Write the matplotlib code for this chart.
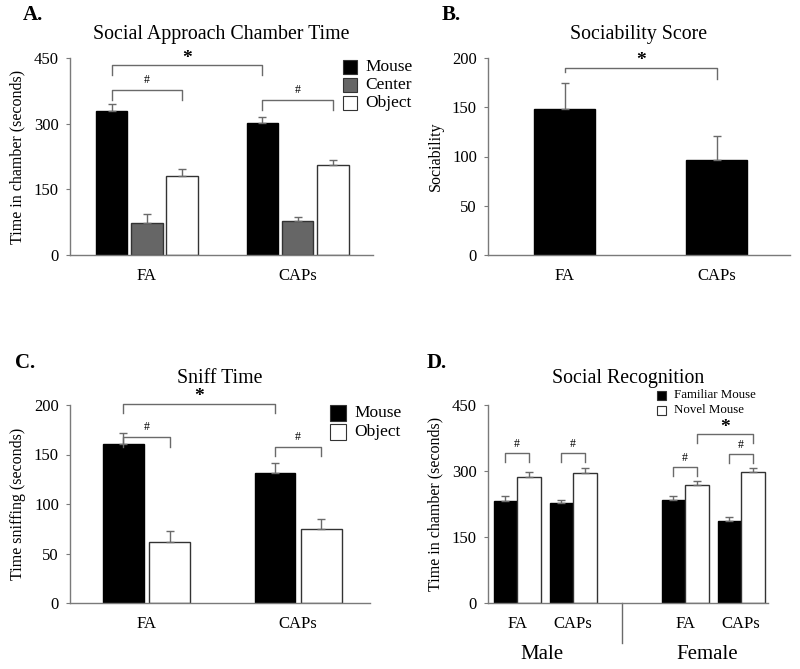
import matplotlib

matplotlib.use("Agg")
import matplotlib.pyplot as plt
import numpy as np

plt.rcParams["font.family"] = ["Liberation Serif", "DejaVu Serif"]

# A. social approach chamber time
a_groups = ["FA", "CAPs"]
a_series = ["Mouse", "Center", "Object"]
a_means = [[330, 301], [73, 78], [181, 205]]
a_errs = [[15, 14], [21, 8], [15, 12]]

# B. sociability score
b_groups = ["FA", "CAPs"]
b_means = [148, 96]
b_errs = [27, 25]

# C. sniff time
c_groups = ["FA", "CAPs"]
c_series = ["Mouse", "Object"]
c_means = [[161, 131], [62, 75]]
c_errs = [[11, 10], [11, 10]]

# D. social recognition
d_groups = ["FA", "CAPs", "FA", "CAPs"]
d_sexes = ["Male", "Female"]
d_series = ["Familiar Mouse", "Novel Mouse"]
d_means = [[232, 227, 235, 186], [287, 295, 269, 297]]
d_errs = [[11, 8, 9, 10], [10, 11, 9, 10]]

W, H = 800, 669
GRAY = "#6a6a6a"
AXC = "#7a7a7a"


def px_axes(fig, left, top, right, bottom):
    return fig.add_axes([left / W, 1 - bottom / H, (right - left) / W, (bottom - top) / H])


def style(ax, ymax, step, ylabel):
    ax.set_ylim(0, ymax)
    ax.set_yticks(np.arange(0, ymax + 1, step))
    for s in ("top", "right"):
        ax.spines[s].set_visible(False)
    for s in ("left", "bottom"):
        ax.spines[s].set_color(AXC)
        ax.spines[s].set_linewidth(1.0)
    ax.tick_params(axis="y", length=3, color=AXC, labelsize=12, pad=5)
    ax.tick_params(axis="x", length=0, labelsize=12, pad=9)
    ax.set_ylabel(ylabel, fontsize=11.5, labelpad=6)


def bars(ax, x, h, err, width, color, edge):
    ax.bar(x, h, width, color=color, edgecolor=edge, linewidth=1.0, zorder=2)
    ax.errorbar(x, h, yerr=[np.zeros(len(err)), err], fmt="none", ecolor=GRAY,
                elinewidth=1.0, capsize=3, capthick=1.0, zorder=3)


def bracket(ax, x0, x1, y, y0, y1, label, star=False):
    ax.plot([x0, x0, x1, x1], [y0, y, y, y1], color=GRAY, lw=1.0, clip_on=False, zorder=4)
    if star:
        ax.annotate(label, xy=((x0 + x1) / 2, y), xytext=(0, 5), textcoords="offset points",
                    ha="center", va="center", fontsize=14, fontweight="bold",
                    annotation_clip=False)
    else:
        ax.annotate(label, xy=((x0 + x1) / 2, y), xytext=(0, 7), textcoords="offset points",
                    ha="center", va="center", fontsize=8.5, annotation_clip=False)


def legend_box(fig, x, y, color, label, size, fsize):
    fig.patches.append(plt.Rectangle((x / W, 1 - (y + size / 2) / H), size / W, size / H,
                                     transform=fig.transFigure, facecolor=color,
                                     edgecolor="#333333", linewidth=0.8))
    fig.text((x + size + 8) / W, 1 - y / H, label, fontsize=fsize, va="center", ha="left")


fig = plt.figure(figsize=(8, 6.69), dpi=100)

# ---- A
ax = px_axes(fig, 70, 58, 373, 255)
xa = np.arange(len(a_groups))
off = 0.234
wa = 0.21
colors_a = ["black", "#666666", "white"]
edges_a = ["black", "#333333", "#333333"]
for i in range(3):
    bars(ax, xa + (i - 1) * off, a_means[i], a_errs[i], wa, colors_a[i], edges_a[i])
ax.set_xlim(-0.51, 1.5)
style(ax, 450, 150, "Time in chamber (seconds)")
ax.set_xticks(xa)
ax.set_xticklabels(a_groups)
bracket(ax, -off, 1 - off, 433, 412, 412, "*", star=True)
bracket(ax, -off, off, 377, 355, 355, "#")
bracket(ax, 1 - off, 1 + off, 354, 332, 332, "#")
ax.set_title("Social Approach Chamber Time", fontsize=14.3, pad=14)
for i, lab in enumerate(a_series):
    legend_box(fig, 343, 67 + i * 18, colors_a[i], lab, 14, 12.5)

# ---- B
ax = px_axes(fig, 488, 58, 790, 255)
xb = np.arange(len(b_groups))
bars(ax, xb, b_means, b_errs, 0.40, "black", "black")
ax.set_xlim(-0.503, 1.48)
style(ax, 200, 50, "Sociability")
ax.set_xticks(xb)
ax.set_xticklabels(b_groups)
bracket(ax, 0, 1, 190, 186, 179, "*", star=True)
ax.set_title("Sociability Score", fontsize=14.3, pad=14)

# ---- C
ax = px_axes(fig, 70, 405, 370, 603)
xc = np.arange(len(c_groups))
offc = 0.152
wc = 0.27
colors_c = ["black", "white"]
edges_c = ["black", "#333333"]
for i in range(2):
    bars(ax, xc + (i * 2 - 1) * offc, c_means[i], c_errs[i], wc, colors_c[i], edges_c[i])
ax.set_xlim(-0.505, 1.475)
style(ax, 200, 50, "Time sniffing (seconds)")
ax.set_xticks(xc)
ax.set_xticklabels(c_groups)
bracket(ax, -offc, 1 - offc, 201.5, 192, 192, "*", star=True)
bracket(ax, -offc, offc, 168, 158, 158, "#")
bracket(ax, 1 - offc, 1 + offc, 158, 148, 148, "#")
ax.set_title("Sniff Time", fontsize=14.3, pad=16)
for i, lab in enumerate(c_series):
    legend_box(fig, 330, 413 + i * 19, colors_c[i], lab, 16, 12.5)

# ---- D
ax = px_axes(fig, 488, 405, 768, 603)
xd = np.array([0, 1, 3, 4])
offd = 0.21
wd = 0.42
for i in range(2):
    bars(ax, xd + (i * 2 - 1) * offd, d_means[i], d_errs[i], wd, colors_c[i], edges_c[i])
ax.set_xlim(-0.52, 4.48)
style(ax, 450, 150, "Time in chamber (seconds)")
ax.set_xticks(xd)
ax.set_xticklabels(d_groups)
bracket(ax, -offd, offd, 340, 321, 321, "#")
bracket(ax, 1 - offd, 1 + offd, 340, 321, 321, "#")
bracket(ax, 3 - offd, 3 + offd, 308, 289, 289, "#")
bracket(ax, 4 - offd, 4 + offd, 338, 319, 319, "#")
bracket(ax, 3 + offd, 4 + offd, 384, 364, 364, "*", star=True)
ax.plot([1.875, 1.875], [0, -0.2], transform=ax.get_xaxis_transform(), color=GRAY,
        lw=1.0, clip_on=False)
for sx, sex in zip([0.45, 3.4], d_sexes):
    ax.text(sx, -0.26, sex, transform=ax.get_xaxis_transform(), ha="center", va="center",
            fontsize=15)
ax.set_title("Social Recognition", fontsize=14.3, pad=16)
for i, lab in enumerate(d_series):
    legend_box(fig, 657, 395 + i * 15, colors_c[i], lab, 9, 9.3)

# panel letters
for x, y, lab in [(23, 15, "A."), (442, 15, "B."), (15, 363, "C."), (427, 363, "D.")]:
    fig.text(x / W, 1 - y / H, lab, fontsize=15, fontweight="bold", va="center", ha="left")

fig.savefig("out.png", dpi=100)
